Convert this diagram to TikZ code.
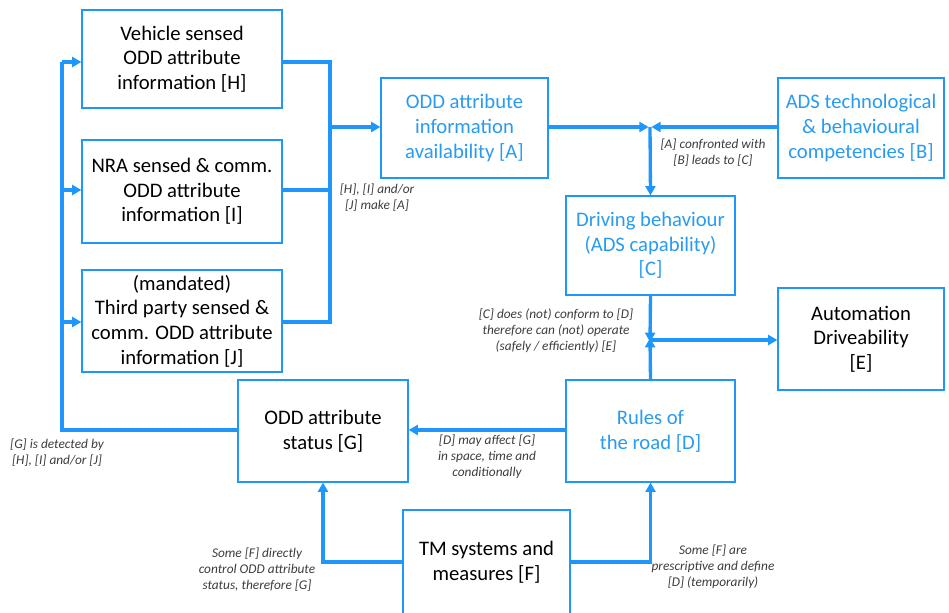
\documentclass[tikz,border=0pt]{standalone}
\usepackage{fontspec}
\setmainfont{Carlito}
\usetikzlibrary{arrows.meta}
\definecolor{lb}{RGB}{30,150,250}
\definecolor{lbt}{RGB}{40,155,240}
\definecolor{lab}{RGB}{60,60,60}
\tikzset{
  box/.style={draw=lb,line width=0.9pt,align=center,font=\fontsize{15.5}{18.5}\selectfont,inner sep=0pt},
  bluetext/.style={text=lbt},
  conn/.style={draw=lb,line width=2.5pt},
  arr/.style={conn,-{Triangle[length=7pt,width=7.5pt]}},
  lbl/.style={align=center,text=lab,font=\fontsize{10}{12}\selectfont\itshape}
}
\begin{document}
\begin{tikzpicture}[x=0.75pt,y=-0.75pt]
\useasboundingbox (0,0) rectangle (949,613);
% boxes
\node[box,minimum width=200*0.75pt,minimum height=98*0.75pt] (H) at (182,59) {Vehicle sensed\\ODD attribute\\information [H]};
\node[box,minimum width=200*0.75pt,minimum height=103*0.75pt] (I) at (182,191.5) {NRA sensed \& comm.\\ODD attribute\\information [I]};
\node[box,minimum width=200*0.75pt,minimum height=102*0.75pt] (J) at (182,321) {(mandated)\\Third party sensed \&\\comm. ODD attribute\\information [J]};
\node[box,bluetext,minimum width=167*0.75pt,minimum height=100*0.75pt] (A) at (464.5,128) {ODD attribute\\information\\availability [A]};
\node[box,bluetext,minimum width=166*0.75pt,minimum height=100*0.75pt] (B) at (861,128) {ADS technological\\\& behavioural\\competencies [B]};
\node[box,bluetext,minimum width=169*0.75pt,minimum height=99*0.75pt] (C) at (650.5,245.5) {Driving behaviour\\(ADS capability)\\{}[C]};
\node[box,minimum width=166*0.75pt,minimum height=102*0.75pt] (E) at (861,339) {Automation\\Driveability\\{}[E]};
\node[box,minimum width=170*0.75pt,minimum height=102*0.75pt] (G) at (323,431) {ODD attribute\\status [G]};
\node[box,bluetext,minimum width=169*0.75pt,minimum height=102*0.75pt] (D) at (650.5,431) {Rules of\\the road [D]};
\node[box,minimum width=167*0.75pt,minimum height=104*0.75pt] (F) at (486.5,562) {TM systems and\\measures [F]};
% junction coordinates
\coordinate (jL) at (330,127);
\coordinate (jAB) at (650,127);
\coordinate (jCD) at (650,340);
\coordinate (jG) at (62,430);
% H, I, J -> A
\draw[conn] (H.east |- 0,62) -| (jL);
\draw[conn] (I.east |- 0,190) -- (330,190);
\draw[conn] (J.east |- 0,322) -| (jL);
\draw[arr] (jL) -- (A.west |- jL);
% A, B -> C
\draw[arr] (A.east |- jAB) -- ([xshift=-1pt]jAB);
\draw[arr] (B.west |- jAB) -- ([xshift=1pt]jAB);
\draw[arr] (jAB) -- (C.north);
% C, D -> E
\draw[arr] (C.south) -- ([yshift=-1.5pt]jCD);
\draw[arr] (D.north) -- ([yshift=1.5pt]jCD);
\draw[arr] (jCD) -- (E.west |- jCD);
% D -> G
\draw[arr] (D.west |- 0,430) -- (G.east |- 0,430);
% G -> H, I, J
\draw[conn] (G.west |- jG) -- (jG) -- (62,62);
\draw[arr] (62,62) -- (H.west |- 0,62);
\draw[arr] (62,190) -- (I.west |- 0,190);
\draw[arr] (62,322) -- (J.west |- 0,322);
% F -> G, D
\draw[arr] (F.west |- 0,562) -| (G.south -| 323,0);
\draw[arr] (F.east |- 0,562) -| (D.south);
% labels
\node[lbl] (l1) at (377,198) {[H], [I] and/or\\{}[J] make [A]};
\node[lbl] (l2) at (713,153) {[A] confronted with\\{}[B] leads to [C]};
\node[lbl] (l3) at (556,331) {[C] does (not) conform to [D]\\therefore can (not) operate\\(safely / efficiently) [E]};
\node[lbl] (l4) at (57,453) {[G] is detected by\\{}[H], [I] and/or [J]};
\node[lbl] (l5) at (487,457) {[D] may affect [G]\\in space, time and\\conditionally};
\node[lbl] (l6) at (257,570) {Some [F] directly\\control ODD attribute\\status, therefore [G]};
\node[lbl] (l7) at (713,567) {Some [F] are\\prescriptive and define\\{}[D] (temporarily)};
\end{tikzpicture}
\end{document}
